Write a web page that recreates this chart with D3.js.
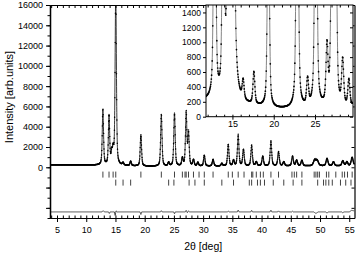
<!DOCTYPE html>
<html><head><meta charset="utf-8">
<script src="https://cdn.jsdelivr.net/npm/d3@7"></script>
<style>body{margin:0;background:#fff}svg{display:block;font-family:"Liberation Sans",Arial,sans-serif}</style>
</head><body>
<svg id="c" width="356" height="256"></svg>
<script>
// ---- data ----
const peakPos    = [12.85,13.9,14.35,14.6,15.05,16.3,17.6,19.35,22.85,24.1,25.1,26.45,27.1,27.5,28.35,29.1,30.2,31.7,33.2,34.3,35.2,36.0,36.9,38.3,39.1,40.2,41.6,42.9,43.8,45.3,46.0,46.9,49.1,49.5,51.2,52.3,53.9,54.6,55.5];
const peakHeight = [5400,4850,1100,1300,17000,250,430,3150,5000,350,5250,750,5150,3150,600,350,1050,650,250,2050,550,2900,1600,1900,400,950,2300,1300,400,900,550,550,600,550,800,400,550,400,700];
const peakWidth  = [0.26,0.26,0.26,0.26,0.26,0.27,0.27,0.27,0.28,0.28,0.28,0.28,0.28,0.28,0.29,0.29,0.29,0.3,0.3,0.3,0.3,0.31,0.31,0.31,0.32,0.32,0.32,0.33,0.33,0.34,0.34,0.34,0.5,0.5,0.36,0.36,0.37,0.37,0.38];
const bgAngle = [3.8,10,12,14,16,18,20,22,25,30,40,50,55.9];
const bgValue = [250,225,205,190,155,130,100,95,100,110,120,130,140];
const diffAngle = [3.8,12.7,12.9,13.1,13.8,13.95,14.1,14.8,14.95,15.1,15.3,19.2,19.35,19.5,22.7,22.85,23.0,24.95,25.1,25.25,26.95,27.1,27.3,27.5,27.7,34.15,34.3,34.45,35.85,36.0,36.15,38.15,38.3,38.45,41.45,41.6,41.75,42.75,42.9,43.05,45.15,45.3,45.45,48.9,49.3,49.7,51.0,51.2,51.4,53.7,53.9,54.1,55.0,55.4,55.9];
const diffValue = [0,0,120,0,0,-150,0,0,-350,100,0,0,-250,0,0,120,0,0,-180,0,0,150,-80,100,0,0,80,0,0,180,0,0,150,0,0,170,0,0,100,0,0,70,0,0,-150,0,0,-120,0,0,-90,0,0,150,100];
const diffOffset = -4400;
const phase1Ticks = [12.85,13.9,14.6,15.05,19.35,22.85,25.1,26.45,26.9,27.1,27.5,28.35,29.3,30.2,31.7,34.3,35.0,36.0,37.0,38.3,38.5,39.1,39.8,40.3,41.6,42.9,45.2,45.6,46.0,46.9,49.0,49.3,49.6,49.9,51.1,51.5,52.7,53.8,54.2,54.7,55.5];
const phase2Ticks = [15.05,16.3,17.6,24.1,25.0,27.6,28.6,30.2,33.2,35.2,37.9,38.3,39.3,39.8,40.5,42.0,43.8,45.4,46.9,49.6,50.6,51.0,51.5,52.1,53.5,54.4,55.3];
const phase1Level = -720, phase2Level = -1510;
const mainYTicks = [0,2000,4000,6000,8000,10000,12000,14000,16000];
const mainXTicks = [5,10,15,20,25,30,35,40,45,50,55];
const insetYTicks = [0,200,400,600,800,1000,1200,1400];
const insetXTicks = [15,20,25];

// ---- profile model built from the read peak list ----
const bgAt = d3.scaleLinear().domain(bgAngle).range(bgValue);
const diffAt = d3.scaleLinear().domain(diffAngle).range(diffValue);
function calcAt(t){
  let s = bgAt(t);
  for(let i=0;i<peakPos.length;i++){
    const u = (t-peakPos[i])/peakWidth[i];
    const L = 1/(1+4*u*u), G = Math.exp(-2.7726*u*u);
    s += peakHeight[i]*(0.5*L+0.5*G);
  }
  return s;
}
const calcPts = d3.range(3.8,55.9,0.01).map(t=>[t,calcAt(t)]);
const obsPts = d3.range(3.8,55.9,0.035).map(t=>[t,calcAt(t)+diffAt(t)]);
const fmt = d3.format("d");

const svg = d3.select("#c");
// ---- main plot ----
const L=50,R=354.5,T=5,B=218;
const x = d3.scaleLinear().domain([3.8,55.9]).range([L,R]);
const y = d3.scaleLinear().domain([-5000,16000]).range([B,T]);
svg.append("clipPath").attr("id","mc").append("rect").attr("x",L).attr("y",T).attr("width",R-L).attr("height",B-T);
const g = svg.append("g").attr("clip-path","url(#mc)");
g.append("path").datum(calcPts).attr("fill","none").attr("stroke","#222").attr("stroke-width",0.9)
 .attr("d",d3.line().x(d=>x(d[0])).y(d=>y(d[1])));
g.selectAll(".o").data(obsPts).join("circle").attr("cx",d=>x(d[0])).attr("cy",d=>y(d[1])).attr("r",0.75).attr("fill","#000");
g.selectAll(".p1").data(phase1Ticks).join("line").attr("x1",d=>x(d)).attr("x2",d=>x(d))
 .attr("y1",y(phase1Level)-3).attr("y2",y(phase1Level)+3).attr("stroke","#111").attr("stroke-width",0.8);
g.selectAll(".p2").data(phase2Ticks).join("line").attr("x1",d=>x(d)).attr("x2",d=>x(d))
 .attr("y1",y(phase2Level)-3).attr("y2",y(phase2Level)+3).attr("stroke","#111").attr("stroke-width",0.8);
g.append("path").datum(d3.range(3.8,55.9,0.05).map(t=>[t,diffOffset+diffAt(t)])).attr("fill","none")
 .attr("stroke","#333").attr("stroke-width",0.9).attr("d",d3.line().x(d=>x(d[0])).y(d=>y(d[1])));

// axes
function styleAxis(sel){sel.selectAll("path,line").attr("stroke","#000");sel.select(".domain").attr("stroke-width",1.2);sel.selectAll("text").attr("fill","#000");}
const minorX = d3.range(4,56,1);
svg.append("g").attr("transform",`translate(0,${B})`).call(d3.axisBottom(x).tickValues(mainXTicks).tickFormat(fmt).tickSize(4).tickPadding(5).tickSizeOuter(0))
 .call(styleAxis).call(s=>s.selectAll("text").attr("font-size",9));
svg.append("g").attr("transform",`translate(0,${B})`).call(d3.axisTop(x).tickValues(minorX).tickSize(2.5).tickFormat("").tickSizeOuter(0)).call(styleAxis);
svg.append("g").attr("transform",`translate(0,${T})`).call(d3.axisBottom(x).tickValues(minorX).tickSize(3).tickFormat("").tickSizeOuter(0)).call(styleAxis);
svg.append("g").attr("transform",`translate(${L},0)`).call(d3.axisLeft(y).tickValues(mainYTicks).tickFormat(fmt).tickSize(4).tickPadding(3).tickSizeOuter(0))
 .call(styleAxis).call(s=>s.selectAll("text").attr("font-size",9));
svg.append("g").attr("transform",`translate(${L},0)`).call(d3.axisLeft(y).tickValues(d3.range(-5000,16001,1000)).tickSize(2.5).tickFormat("").tickSizeOuter(0)).call(styleAxis);
svg.append("g").attr("transform",`translate(${L},0)`).call(d3.axisLeft(y).tickValues([-4000,-2000]).tickSize(4).tickFormat("").tickSizeOuter(0)).call(styleAxis);
svg.append("g").attr("transform",`translate(${R},0)`).call(d3.axisLeft(y).tickValues(d3.range(-4000,16001,2000)).tickSize(3).tickFormat("").tickSizeOuter(0)).call(styleAxis);

svg.append("text").attr("x",(L+R)/2+1).attr("y",250).attr("text-anchor","middle").attr("font-size",10.5).text("2θ [deg]");
svg.append("text").attr("transform","translate(13,97) rotate(-90)").attr("text-anchor","middle").attr("font-size",11).text("Intensity [arb.units]");

// ---- inset ----
const iL=206,iR=353,iT=5,iB=116.7;
const xi = d3.scaleLinear().domain([11.8,29.6]).range([iL,iR]);
const yi = d3.scaleLinear().domain([0,1500]).range([iB,iT]);
svg.append("rect").attr("x",iL).attr("y",iT).attr("width",iR-iL).attr("height",iB-iT).attr("fill","#fff");
svg.append("clipPath").attr("id","ic").append("rect").attr("x",iL).attr("y",iT).attr("width",iR-iL).attr("height",iB-iT);
const gi = svg.append("g").attr("clip-path","url(#ic)");
const inC = calcPts.filter(d=>d[0]>11.5&&d[0]<30);
const inO = obsPts.filter(d=>d[0]>11.5&&d[0]<30);
gi.append("path").datum(inC).attr("fill","none").attr("stroke","#666").attr("stroke-width",0.8)
 .attr("d",d3.line().x(d=>xi(d[0])).y(d=>yi(Math.min(d[1],3000))));
gi.selectAll("circle").data(inO).join("circle").attr("cx",d=>xi(d[0])).attr("cy",d=>yi(Math.min(d[1],3000))).attr("r",0.85).attr("fill","#000");
svg.append("rect").attr("x",iL).attr("y",iT).attr("width",iR-iL).attr("height",iB-iT).attr("fill","none").attr("stroke","#000").attr("stroke-width",1);
svg.append("g").attr("transform",`translate(${iL},0)`).call(d3.axisLeft(yi).tickValues(insetYTicks).tickFormat(fmt).tickSize(3).tickPadding(2).tickSizeOuter(0))
 .call(styleAxis).call(s=>{s.select(".domain").remove();s.selectAll("text").attr("font-size",8.5);});
svg.append("g").attr("transform",`translate(${iR},0)`).call(d3.axisLeft(yi).tickValues(insetYTicks).tickSize(3).tickFormat("").tickSizeOuter(0))
 .call(styleAxis).call(s=>s.select(".domain").remove());
svg.append("g").attr("transform",`translate(0,${iB})`).call(d3.axisBottom(xi).tickValues(insetXTicks).tickFormat(fmt).tickSize(3).tickPadding(1).tickSizeOuter(0))
 .call(styleAxis).call(s=>{s.select(".domain").remove();s.selectAll("text").attr("font-size",9);});
svg.append("g").attr("transform",`translate(0,${iB})`).call(d3.axisTop(xi).tickValues(d3.range(12,30,1)).tickSize(2).tickFormat("").tickSizeOuter(0))
 .call(styleAxis).call(s=>s.select(".domain").remove());
svg.append("g").attr("transform",`translate(0,${iT})`).call(d3.axisBottom(xi).tickValues(d3.range(12,30,1)).tickSize(2.5).tickFormat("").tickSizeOuter(0))
 .call(styleAxis).call(s=>s.select(".domain").remove());
</script>
</body></html>
